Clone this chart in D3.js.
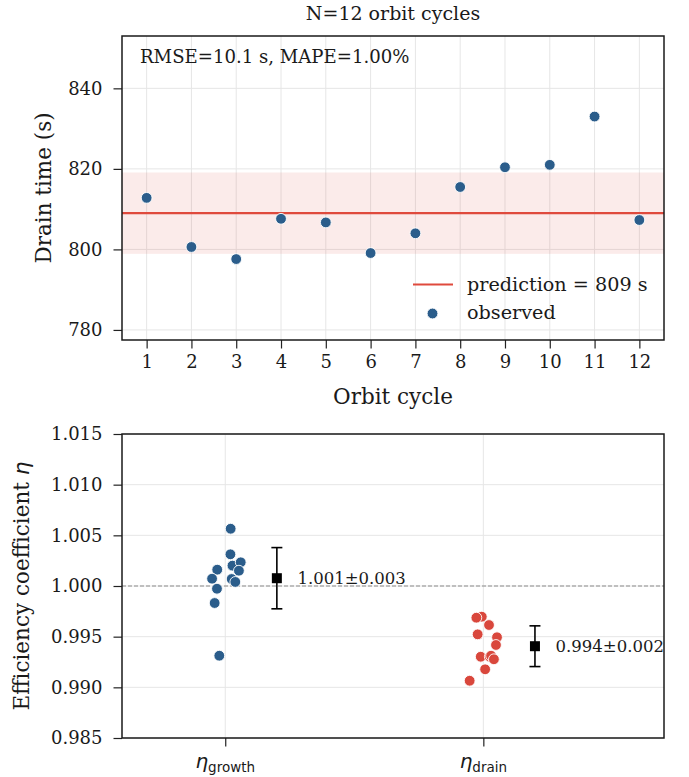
<!DOCTYPE html>
<html>
<head>
<meta charset="utf-8">
<script src="https://cdn.jsdelivr.net/npm/d3@7"></script>
<style>
  html, body { margin: 0; padding: 0; background: #fff; }
  svg { display: block; }
  text { font-family: "DejaVu Serif", serif; fill: #1a1a1a; }
</style>
</head>
<body>
<svg id="chart" width="689" height="777"></svg>
<script>
// ---------- data ----------
const cycles = [1, 2, 3, 4, 5, 6, 7, 8, 9, 10, 11, 12];
const drainObserved = [812.8, 800.6, 797.6, 807.6, 806.7, 799.1, 804.0, 815.5, 820.4, 821.0, 833.0, 807.3];
const prediction = 809;
const rmse = 10.1;
const mape = 1.00;
const topYTicks = [780, 800, 820, 840];

const etaCategories = ["growth", "drain"];
const etaGrowth = [1.00565, 1.00313, 1.00201, 1.00234, 1.00151, 1.00161, 1.00072, 1.00069, 1.00040, 0.99973, 0.99832, 0.99312];
const growthJitter = [0.021, 0.020, 0.028, 0.060, 0.053, -0.031, -0.051, 0.025, 0.039, -0.032, -0.041, -0.023];
const etaDrain = [0.99697, 0.99687, 0.99615, 0.99523, 0.99494, 0.99418, 0.99302, 0.99302, 0.99312, 0.99277, 0.99178, 0.99065];
const drainJitter = [-0.006, -0.027, 0.022, -0.022, 0.053, 0.049, -0.010, 0.025, 0.030, 0.041, 0.007, -0.053];
const etaTicks = [0.985, 0.990, 0.995, 1.000, 1.005, 1.010, 1.015];

// ---------- styles ----------
const BLUE = "#2b5d8b", RED = "#d9473c", LINE_RED = "#df4a3d", GRID = "#e6e6e6";
const svg = d3.select("#chart");

// ================= TOP PANEL =================
const T = { left: 122, right: 664, top: 36, bottom: 340 };
const x1 = d3.scaleLinear().domain([0.45, 12.55]).range([T.left, T.right]);
const y1 = d3.scaleLinear().domain([777.5, 853]).range([T.bottom, T.top]);

const g1 = svg.append("g");
// grid
g1.append("g").selectAll("line").data(cycles).join("line")
  .attr("x1", d => x1(d)).attr("x2", d => x1(d))
  .attr("y1", T.top).attr("y2", T.bottom)
  .attr("stroke", GRID).attr("stroke-width", 1);
g1.append("g").selectAll("line").data(topYTicks).join("line")
  .attr("x1", T.left).attr("x2", T.right)
  .attr("y1", d => y1(d)).attr("y2", d => y1(d))
  .attr("stroke", GRID).attr("stroke-width", 1);
// band ±RMSE
g1.append("rect")
  .attr("x", T.left).attr("width", T.right - T.left)
  .attr("y", y1(prediction + rmse)).attr("height", y1(prediction - rmse) - y1(prediction + rmse))
  .attr("fill", LINE_RED).attr("fill-opacity", 0.11);
// prediction line
g1.append("line")
  .attr("x1", T.left).attr("x2", T.right)
  .attr("y1", y1(prediction)).attr("y2", y1(prediction))
  .attr("stroke", LINE_RED).attr("stroke-width", 2.2);
// points
g1.append("g").selectAll("circle").data(cycles).join("circle")
  .attr("cx", d => x1(d)).attr("cy", (d, i) => y1(drainObserved[i]))
  .attr("r", 5.4).attr("fill", BLUE).attr("stroke", "#fff").attr("stroke-width", 0.9);

// axes
const ax1 = g1.append("g").attr("transform", `translate(0,${T.bottom})`)
  .call(d3.axisBottom(x1).tickValues(cycles).tickSize(8.5).tickPadding(7).tickFormat(d3.format("d")));
const ay1 = g1.append("g").attr("transform", `translate(${T.left},0)`)
  .call(d3.axisLeft(y1).tickValues(topYTicks).tickSize(8.5).tickPadding(11).tickFormat(d3.format("d")));
[ax1, ay1].forEach(a => {
  a.select(".domain").remove();
  a.selectAll(".tick line").attr("stroke", "#222").attr("stroke-width", 1.2);
  a.selectAll(".tick text").attr("font-family", "DejaVu Serif").attr("font-size", 18).attr("fill", "#1a1a1a");
});
// frame
g1.append("rect").attr("x", T.left).attr("y", T.top)
  .attr("width", T.right - T.left).attr("height", T.bottom - T.top)
  .attr("fill", "none").attr("stroke", "#1a1a1a").attr("stroke-width", 1.5);

// texts
svg.append("text").attr("x", (T.left + T.right) / 2).attr("y", 20)
  .attr("text-anchor", "middle").attr("font-size", 19).text("N=12 orbit cycles");
svg.append("text").attr("x", 140).attr("y", 63).attr("font-size", 18.1)
  .text(`RMSE=${rmse.toFixed(1)} s, MAPE=${mape.toFixed(2)}%`);
svg.append("text").attr("x", (T.left + T.right) / 2).attr("y", 404)
  .attr("text-anchor", "middle").attr("font-size", 21.5).text("Orbit cycle");
svg.append("text").attr("transform", `translate(51,${(T.top + T.bottom) / 2}) rotate(-90)`)
  .attr("text-anchor", "middle").attr("font-size", 21.5).text("Drain time (s)");

// legend
const lg = svg.append("g");
lg.append("line").attr("x1", 413).attr("x2", 453).attr("y1", 284.5).attr("y2", 284.5)
  .attr("stroke", LINE_RED).attr("stroke-width", 2.2);
lg.append("text").attr("x", 467).attr("y", 291).attr("font-size", 19.2).text(`prediction = ${prediction} s`);
lg.append("circle").attr("cx", 432.5).attr("cy", 313.5).attr("r", 5.4).attr("fill", BLUE)
  .attr("stroke", "#fff").attr("stroke-width", 0.9);
lg.append("text").attr("x", 467).attr("y", 319).attr("font-size", 19.2).text("observed");

// ================= BOTTOM PANEL =================
const B = { left: 122, right: 664, top: 434, bottom: 738 };
const x2 = d3.scaleLinear().domain([-0.4, 1.7]).range([B.left, B.right]);
const y2 = d3.scaleLinear().domain([0.985, 1.015]).range([B.bottom, B.top]);
const g2 = svg.append("g");

g2.append("g").selectAll("line").data(etaCategories).join("line")
  .attr("x1", (d, i) => x2(i)).attr("x2", (d, i) => x2(i))
  .attr("y1", B.top).attr("y2", B.bottom)
  .attr("stroke", GRID).attr("stroke-width", 1);
g2.append("g").selectAll("line").data(etaTicks).join("line")
  .attr("x1", B.left).attr("x2", B.right)
  .attr("y1", d => y2(d)).attr("y2", d => y2(d))
  .attr("stroke", GRID).attr("stroke-width", 1);
// reference line at 1
g2.append("line").attr("x1", B.left).attr("x2", B.right)
  .attr("y1", y2(1)).attr("y2", y2(1))
  .attr("stroke", "#8c8c8c").attr("stroke-width", 1.1).attr("stroke-dasharray", "4,2");

const groups = [
  { vals: etaGrowth, jit: growthJitter, color: BLUE },
  { vals: etaDrain, jit: drainJitter, color: RED }
];
groups.forEach((grp, gi) => {
  g2.append("g").selectAll("circle").data(grp.vals).join("circle")
    .attr("cx", (d, i) => x2(gi + grp.jit[i])).attr("cy", d => y2(d))
    .attr("r", 5.4).attr("fill", grp.color).attr("stroke", "#fff").attr("stroke-width", 0.9);
  const m = d3.mean(grp.vals), s = d3.deviation(grp.vals);
  const xe = x2(gi + 0.2);
  const eb = g2.append("g").attr("stroke", "#000").attr("stroke-width", 1.6);
  eb.append("line").attr("x1", xe).attr("x2", xe).attr("y1", y2(m + s)).attr("y2", y2(m - s));
  eb.append("line").attr("x1", xe - 5.5).attr("x2", xe + 5.5).attr("y1", y2(m + s)).attr("y2", y2(m + s));
  eb.append("line").attr("x1", xe - 5.5).attr("x2", xe + 5.5).attr("y1", y2(m - s)).attr("y2", y2(m - s));
  g2.append("rect").attr("x", xe - 5).attr("y", y2(m) - 5).attr("width", 10).attr("height", 10).attr("fill", "#000");
  g2.append("text").attr("x", x2(gi + 0.28)).attr("y", y2(m) + 6)
    .attr("font-size", 16.5).text(`${m.toFixed(3)}±${s.toFixed(3)}`);
});

const ay2 = g2.append("g").attr("transform", `translate(${B.left},0)`)
  .call(d3.axisLeft(y2).tickValues(etaTicks).tickSize(8.5).tickPadding(11).tickFormat(d3.format(".3f")));
const ax2 = g2.append("g").attr("transform", `translate(0,${B.bottom})`)
  .call(d3.axisBottom(x2).tickValues([0, 1]).tickSize(8.5).tickFormat(""));
[ax2, ay2].forEach(a => {
  a.select(".domain").remove();
  a.selectAll(".tick line").attr("stroke", "#222").attr("stroke-width", 1.2);
  a.selectAll(".tick text").attr("font-family", "DejaVu Serif").attr("font-size", 18).attr("fill", "#1a1a1a");
});
// custom category labels η_sub
etaCategories.forEach((c, i) => {
  const t = g2.append("text").attr("x", x2(i)).attr("y", 768).attr("text-anchor", "middle");
  t.append("tspan").attr("font-family", "DejaVu Sans").attr("font-style", "italic").attr("font-size", 20).text("η");
  t.append("tspan").attr("font-family", "DejaVu Sans").attr("font-size", 13.5).attr("dy", 3.5).text(c);
});
g2.append("rect").attr("x", B.left).attr("y", B.top)
  .attr("width", B.right - B.left).attr("height", B.bottom - B.top)
  .attr("fill", "none").attr("stroke", "#1a1a1a").attr("stroke-width", 1.5);

const yl = svg.append("text").attr("transform", `translate(29,${(B.top + B.bottom) / 2}) rotate(-90)`)
  .attr("text-anchor", "middle").attr("font-size", 21.5);
yl.append("tspan").text("Efficiency coefficient ");
yl.append("tspan").attr("font-family", "DejaVu Sans").attr("font-style", "italic").text("η");
</script>
</body>
</html>
